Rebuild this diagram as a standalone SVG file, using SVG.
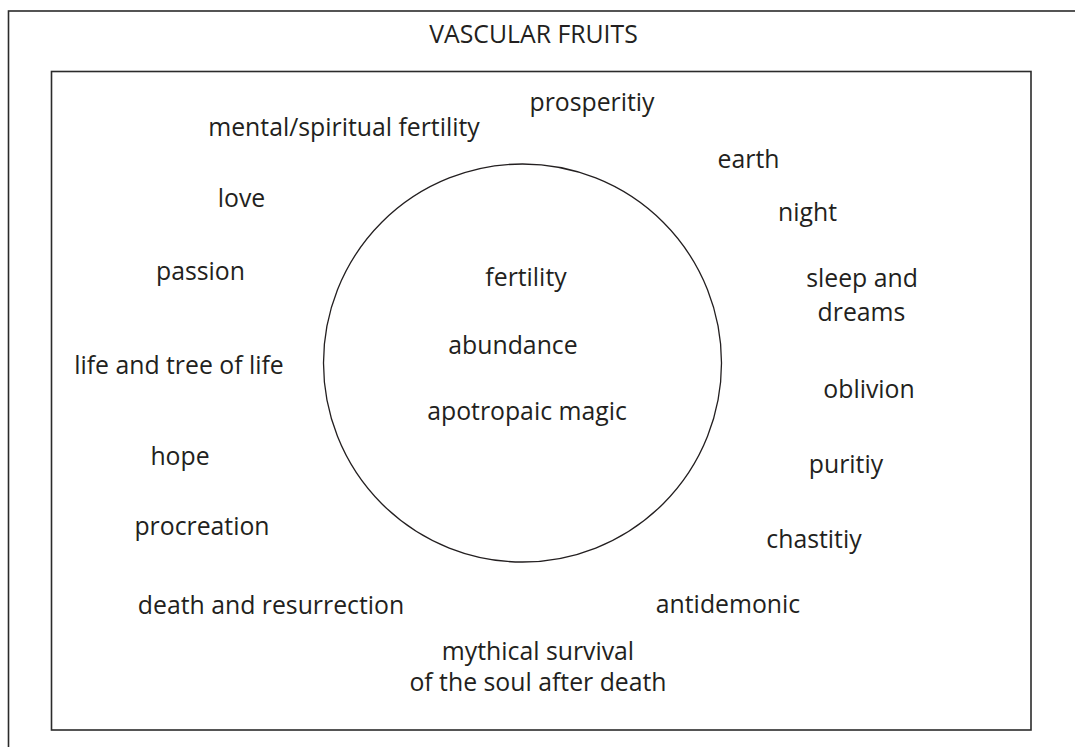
<svg xmlns="http://www.w3.org/2000/svg" width="1075" height="747" viewBox="0 0 1075 747">
<style>
.frame{fill:none;stroke:#2b2b2b;stroke-width:1.6}
.circ{fill:none;stroke:#231f20;stroke-width:1.3}
text{font-family:"Open Sans","Noto Sans","Liberation Sans",sans-serif;font-size:24.8px;fill:#231f20;text-anchor:middle}
</style>
<rect width="1075" height="747" fill="#ffffff"/>
<rect class="frame" x="8.5" y="11" width="1080" height="760"/>
<rect class="frame" x="51.5" y="71.5" width="979.5" height="658.5"/>
<text id="title" x="533.5" y="43">VASCULAR FRUITS</text>
<g id="center">
<circle class="circ" cx="522.5" cy="363" r="199"/>
<text x="526" y="286">fertility</text>
<text x="513" y="354">abundance</text>
<text x="527" y="420">apotropaic magic</text>
</g>
<g id="n-prosperity"><text x="592" y="111">prosperitiy</text></g>
<g id="n-mental"><text x="344" y="136">mental/spiritual fertility</text></g>
<g id="n-earth"><text x="748.5" y="168">earth</text></g>
<g id="n-love"><text x="241.5" y="207">love</text></g>
<g id="n-night"><text x="807.5" y="221">night</text></g>
<g id="n-passion"><text x="200.5" y="280">passion</text></g>
<g id="n-sleep"><text x="862" y="287">sleep and</text><text x="861.5" y="321">dreams</text></g>
<g id="n-life"><text x="179" y="374">life and tree of life</text></g>
<g id="n-oblivion"><text x="869" y="398">oblivion</text></g>
<g id="n-hope"><text x="180" y="465">hope</text></g>
<g id="n-purity"><text x="846" y="473">puritiy</text></g>
<g id="n-procreation"><text x="202" y="535">procreation</text></g>
<g id="n-chastity"><text x="814" y="548">chastitiy</text></g>
<g id="n-antidemonic"><text x="728" y="613">antidemonic</text></g>
<g id="n-death"><text x="271" y="614">death and resurrection</text></g>
<g id="n-mythical"><text x="538" y="660">mythical survival</text><text x="538" y="691">of the soul after death</text></g>
<g id="connectors"></g>
</svg>
